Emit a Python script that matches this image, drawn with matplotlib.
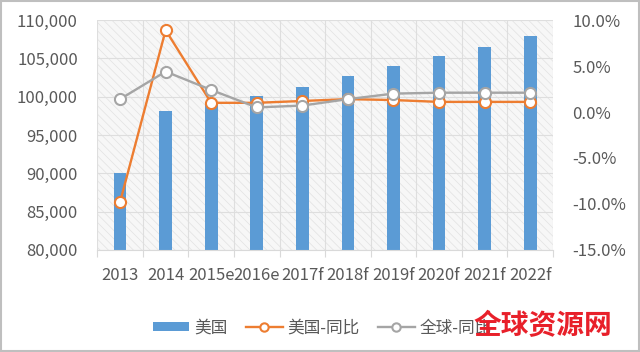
import matplotlib
matplotlib.use("Agg")
import matplotlib.pyplot as plt
from matplotlib.ticker import FuncFormatter

plt.rcParams['font.family'] = ['Noto Sans CJK SC', 'DejaVu Sans']
plt.rcParams['hatch.linewidth'] = 0.5

years = ['2013', '2014', '2015e', '2016e', '2017f', '2018f', '2019f', '2020f', '2021f', '2022f']
us_sales = [90000, 98100, 99200, 100100, 101300, 102700, 104000, 105300, 106500, 107900]
us_yoy = [-9.8, 8.9, 1.0, 1.0, 1.2, 1.4, 1.3, 1.1, 1.1, 1.1]
global_yoy = [1.4, 4.4, 2.4, 0.5, 0.7, 1.4, 2.0, 2.1, 2.1, 2.1]

blue = '#5B9BD5'
orange = '#ED7D31'
gray = '#A5A5A5'
txt = '#595959'

fig = plt.figure(figsize=(6.4, 3.52), dpi=100)
ax = fig.add_axes([0.152, 0.29, 0.712, 0.653])
x = list(range(len(years)))

ax.set_facecolor('#f7f7f7')
ax.fill_between([-0.5, 9.5], 80000, 110000, facecolor='none', edgecolor='#e2e2e2',
                hatch='\\\\\\\\', linewidth=0, zorder=0)
b = ax.bar(x, us_sales, width=0.28, color=blue, zorder=2, label='美国')
ax.set_ylim(80000, 110000)
ax.set_xlim(-0.5, 9.5)
ax.set_yticks(range(80000, 110001, 5000))
ax.yaxis.set_major_formatter(FuncFormatter(lambda v, p: f'{int(v):,}'))
ax.set_xticks([i - 0.5 for i in range(11)], minor=False)
ax.set_xticklabels([])
ax.set_xticks(x, minor=True)
ax.set_xticklabels(years, minor=True)
ax.tick_params(axis='x', which='major', length=5, color='#d9d9d9')
ax.tick_params(axis='x', which='minor', length=0, labelsize=12, labelcolor=txt, pad=12)
ax.tick_params(axis='y', length=0, labelsize=12, labelcolor=txt, pad=14)
ax.grid(True, which='major', color='#dedede', linewidth=0.8, zorder=1)
ax.set_axisbelow(True)
for s in ['top', 'right', 'left']:
    ax.spines[s].set_visible(False)
ax.spines['bottom'].set_color('#d9d9d9')

ax2 = ax.twinx()
l1, = ax2.plot(x, us_yoy, color=orange, lw=1.7, marker='o', ms=8, mfc='white', mec=orange, mew=1.5, label='美国-同比', zorder=3)
l2, = ax2.plot(x, global_yoy, color=gray, lw=1.7, marker='o', ms=8, mfc='white', mec=gray, mew=1.5, label='全球-同比', zorder=3)
ax2.set_ylim(-15, 10)
ax2.set_yticks(range(-15, 11, 5))
ax2.yaxis.set_major_formatter(FuncFormatter(lambda v, p: f'{v:.1f}%'))
ax2.tick_params(axis='y', length=0, labelsize=12, labelcolor=txt, pad=14)
for s in ax2.spines.values():
    s.set_visible(False)

leg = fig.legend(handles=[b, l1, l2], loc='center left', bbox_to_anchor=(0.215, 0.068), ncol=3, frameon=False,
                 fontsize=12, labelcolor=txt, handlelength=2.2, columnspacing=1.1, handletextpad=0.3,
                 markerscale=0.75, handleheight=0.5)

fig.text(0.957, 0.073, '全球资源网', color='#e8202a', fontsize=20, fontweight='bold', ha='right', va='center', zorder=10)

border = plt.Rectangle((0.002, 0.003), 0.996, 0.994, transform=fig.transFigure, fill=False, edgecolor='#bfbfbf', lw=1.5)
fig.patches.append(border)

fig.savefig('out.png', dpi=100, facecolor='white')
